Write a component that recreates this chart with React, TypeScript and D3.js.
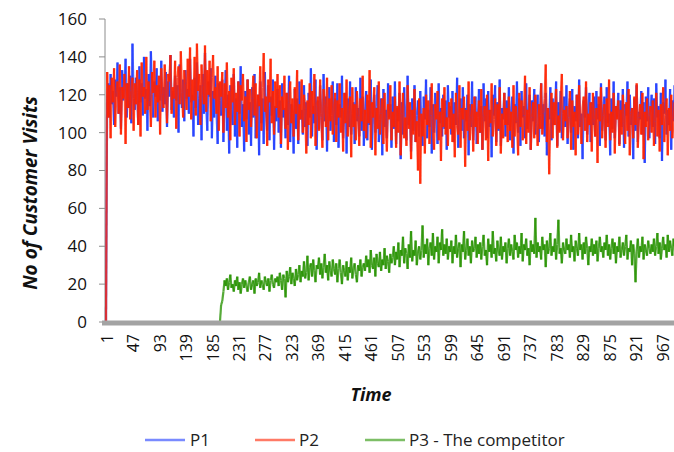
import React from "react";
import * as d3 from "d3";

// Sampled every 2 time units starting at t = 1
const P1: number[] = [
  0,118,126,108,131,115,122,104,128,119,137,110,124,102,133,117,121,139,108,126,113,130,105,147,118,
  112,129,121,104,135,116,126,109,140,118,123,101,131,114,143,120,108,127,119,134,106,125,117,138,111,
  124,115,132,103,127,119,141,112,122,108,130,117,125,100,136,121,113,128,106,133,118,123,110,139,116,
  120,98,129,113,137,104,118,125,96,131,110,142,115,101,127,119,134,97,122,108,130,112,94,126,117,
  109,128,95,117,133,101,120,89,125,112,104,131,98,118,92,127,110,135,103,115,90,122,107,128,99,
  116,93,124,108,131,97,112,120,88,127,105,118,94,132,111,101,125,96,119,109,128,91,114,106,123,
  100,117,92,126,108,113,97,121,104,130,95,115,110,89,123,102,118,94,127,107,112,99,125,103,116,
  93,121,108,134,98,114,105,128,91,117,102,125,110,96,131,106,119,90,113,124,101,109,127,95,118,
  104,126,92,115,108,130,97,112,121,89,118,103,127,99,110,116,94,124,106,113,98,129,101,119,93,
  111,122,96,117,104,128,91,109,120,100,114,125,95,107,118,88,123,103,112,97,126,108,115,92,119,
  102,127,94,113,106,121,86,116,99,124,108,96,130,104,112,90,118,101,125,95,109,117,98,122,105,
  93,119,107,128,97,112,103,124,89,115,100,121,110,94,126,105,113,98,120,102,117,91,125,108,114,
  99,122,95,116,104,129,92,110,118,101,124,97,113,106,120,88,115,103,127,96,111,119,94,108,123,
  100,114,91,126,106,118,97,122,103,112,87,120,109,125,95,116,101,128,93,113,107,121,98,117,104,
  124,96,111,119,89,115,105,127,100,118,93,122,108,114,97,126,102,110,120,91,117,106,123,99,112,
  120,95,109,126,102,115,98,121,88,113,107,124,96,118,104,111,127,93,116,101,122,97,110,119,103,
  125,94,112,118,100,123,91,114,106,120,97,128,103,110,86,117,108,124,99,113,121,95,116,104,119,
  98,122,107,115,93,126,101,112,119,96,124,105,110,88,118,102,127,97,114,108,121,94,117,103,123,
  92,115,109,127,98,120,104,113,86,118,101,125,95,111,107,122,99,116,84,119,106,124,97,112,120,
  103,118,94,126,108,114,97,121,85,116,110,128,99,112,104,123,91,117,106,125,100,113,96,122,118,
];

const P2: number[] = [
  0,132,108,125,97,129,116,134,103,121,127,110,136,99,124,118,131,94,126,113,135,107,122,129,101,
  126,115,133,104,128,98,137,119,124,110,140,112,127,117,103,132,121,138,108,125,116,130,99,134,120,
  113,136,122,105,131,127,141,110,124,118,138,102,129,135,115,143,121,108,133,126,112,139,119,145,107,
  128,117,140,109,147,122,131,104,136,125,115,146,111,133,120,138,106,129,141,118,124,110,135,101,127,
  119,132,100,126,113,137,108,122,96,129,116,134,104,121,111,127,98,125,117,131,106,119,95,128,112,
  123,103,118,130,109,126,97,120,114,135,101,124,142,111,119,93,128,116,139,105,122,99,127,113,131,
  108,125,94,119,112,130,102,121,91,116,127,105,118,98,124,110,133,96,115,107,128,100,120,112,89,
  117,104,126,97,122,110,131,93,114,119,101,128,108,92,123,115,103,129,96,118,106,125,99,113,121,
  95,117,108,126,100,113,90,121,105,128,98,111,119,87,124,103,115,96,122,109,93,118,106,130,101,
  112,97,120,105,133,92,116,108,124,88,113,102,127,99,110,118,94,121,104,90,115,107,125,96,111,
  103,119,92,114,100,127,88,110,121,97,108,93,125,102,116,86,112,99,123,95,106,80,118,73,110,
  98,113,89,120,104,117,94,109,126,100,91,115,107,122,96,111,85,118,103,124,99,108,93,116,102,
  118,95,110,87,121,104,99,125,92,113,107,119,82,112,101,127,96,108,115,90,119,103,111,94,117,
  100,123,91,109,114,96,120,85,112,105,126,98,107,118,93,115,102,124,89,110,97,121,104,113,95,
  119,101,111,92,125,98,114,106,88,121,103,117,96,109,130,94,112,100,124,91,108,116,97,120,105,
  93,115,102,126,99,110,118,136,95,113,78,107,121,97,116,104,123,92,109,100,119,131,96,112,106,
  114,97,108,122,91,117,103,111,88,120,99,125,106,94,113,119,101,127,95,110,104,116,90,121,107,
  98,113,84,119,106,124,97,109,115,92,118,103,128,96,111,100,121,89,114,107,117,93,112,99,120,
  105,94,116,101,123,88,110,113,97,119,104,126,92,108,115,99,121,86,111,103,118,96,109,114,100,
  117,93,106,121,98,112,90,115,104,124,95,109,118,88,113,101,120,97,107,116,92,111,103,98,86,
];

// P3 is 0 before it enters; sampled every 2 time units from t = 199
const P3_START = 199;
const P3: number[] = [
  0,9,11,16,22,19,23,17,21,25,18,20,16,22,19,24,17,21,15,20,23,18,22,19,16,
  21,24,17,20,22,15,23,19,21,26,18,22,20,17,24,21,19,23,16,22,25,20,18,23,21,
  24,19,26,22,17,25,23,13,27,21,24,29,20,26,23,19,28,22,25,30,21,27,24,32,23,
  26,35,22,29,31,24,33,27,21,30,28,34,25,31,23,29,36,26,30,22,32,27,24,33,28,
  25,31,21,28,33,26,20,30,27,24,32,22,29,26,34,23,28,31,25,21,30,27,33,24,29,
  31,27,35,29,33,26,38,30,28,34,24,36,31,29,37,27,33,30,39,28,35,32,26,36,31,
  34,40,30,37,33,42,29,38,35,45,31,39,36,28,41,34,48,32,38,35,43,30,37,40,33,
  38,51,34,41,36,44,30,39,42,35,47,33,40,37,45,31,42,38,49,35,41,36,44,33,40,
  37,43,31,40,36,46,34,39,42,29,41,37,48,33,38,44,35,40,31,43,37,39,45,34,41,
  36,42,33,40,46,35,38,30,44,37,41,34,48,36,39,32,43,38,35,45,33,40,37,42,31,
  39,44,35,41,37,33,46,38,42,34,40,36,47,32,41,38,44,35,39,30,43,37,41,36,55,
  34,42,37,40,33,45,38,41,29,43,36,39,47,35,40,37,44,33,41,54,36,39,31,42,38,
  36,44,38,41,34,46,37,40,32,43,39,35,47,38,41,33,42,36,45,39,30,40,37,44,35,
  41,36,43,32,39,45,37,40,34,42,38,46,35,41,33,39,44,36,42,31,40,37,45,34,38,
  42,35,40,46,33,39,37,43,30,41,36,21,38,44,34,40,37,45,33,41,38,35,43,39,36,
  41,37,44,35,40,47,36,42,33,39,45,38,41,34,46,37,43,39,35,44,40,47,36,42,38,45,
];

const STEP = 2;
const X_TICKS = [1,47,93,139,185,231,277,323,369,415,461,507,553,599,645,691,737,783,829,875,921,967];
const Y_TICKS = [0,20,40,60,80,100,120,140,160];

const SERIES = [
  { name: "P1", values: P1, start: 1, color: "#1f3cff" },
  { name: "P2", values: P2, start: 1, color: "#ff2200" },
  { name: "P3 - The competitor", values: P3, start: P3_START, color: "#269200" },
];

const FONT = "'Open Sans', sans-serif";

export default function App() {
  const W = 674, H = 452;
  const x = d3.scaleLinear().domain([1, 967]).range([106, 662]);
  const y = d3.scaleLinear().domain([0, 160]).range([322, 19]);
  const axisLeft = 105;

  const segs = (s: typeof SERIES[number]) => {
    const pts = s.values.map((v, i) => [x(s.start + i * STEP), y(v)] as [number, number]);
    const out: JSX.Element[] = [];
    for (let i = 1; i < pts.length; i++) {
      out.push(
        <line key={i} x1={pts[i - 1][0]} y1={pts[i - 1][1]} x2={pts[i][0]} y2={pts[i][1]}
          stroke={s.color} strokeWidth={2.2} strokeOpacity={0.78} />
      );
    }
    return out;
  };

  const legendItems = [
    { x0: 145, tx: 190 },
    { x0: 255, tx: 299 },
    { x0: 365, tx: 409 },
  ];

  return (
    <svg width={W} height={H} style={{ position: "absolute", left: 0, top: 0, background: "#fff" }}
      fontFamily={FONT}>
      <rect width={W} height={H} fill="#fff" />
      {/* y axis */}
      <line x1={axisLeft} x2={axisLeft} y1={y(160)} y2={y(0)} stroke="#8c8c8c" strokeWidth={1} />
      {Y_TICKS.map((t) => (
        <g key={t}>
          <line x1={axisLeft - 6} x2={axisLeft} y1={y(t)} y2={y(t)} stroke="#8c8c8c" strokeWidth={1} />
          <text x={87} y={y(t)} dy="0.35em" textAnchor="end" fontSize={17} fill="#111">{t}</text>
        </g>
      ))}
      {/* series */}
      {SERIES.map((s) => <g key={s.name}>{segs(s)}</g>)}
      {/* x axis (thick gray) */}
      <line x1={axisLeft - 3} x2={W} y1={y(0) + 1} y2={y(0) + 1} stroke="#a3a3a3" strokeWidth={5} />
      {X_TICKS.map((t) => (
        <text key={t} transform={`translate(${x(t) + 1},334) rotate(-90)`} dy="0.35em"
          textAnchor="end" fontSize={16} fill="#111">{t}</text>
      ))}
      {/* axis titles */}
      <text transform={`translate(30,193) rotate(-90)`} dy="0.35em" textAnchor="middle"
        fontSize={19} fontWeight="bold" fontStyle="italic" fill="#111">No of Customer Visits</text>
      <text x={371} y={395} dy="0.35em" textAnchor="middle" fontSize={18} fontWeight="bold"
        fontStyle="italic" fill="#111">Time</text>
      {/* legend */}
      {SERIES.map((s, i) => (
        <g key={s.name}>
          <line x1={legendItems[i].x0} x2={legendItems[i].x0 + 40} y1={440} y2={440}
            stroke={s.color} strokeWidth={2.5} strokeOpacity={0.6} />
          <text x={legendItems[i].tx} y={440} dy="0.35em" fontSize={17} fill="#222">{s.name}</text>
        </g>
      ))}
    </svg>
  );
}
